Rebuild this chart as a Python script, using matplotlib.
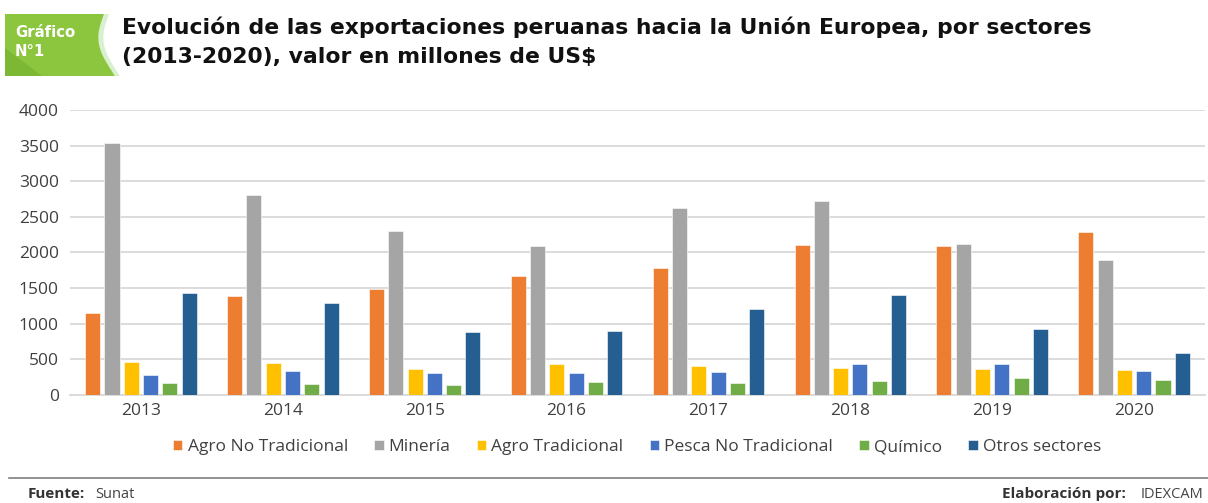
import numpy as np
import matplotlib
matplotlib.use("Agg")
import matplotlib.pyplot as plt
from matplotlib.patches import Polygon

years = ["2013", "2014", "2015", "2016", "2017", "2018", "2019", "2020"]
sectors = ["Agro No Tradicional", "Minería", "Agro Tradicional",
           "Pesca No Tradicional", "Químico", "Otros sectores"]
agro_no_trad = [1156, 1385, 1488, 1670, 1782, 2105, 2096, 2288]
mineria = [3532, 2802, 2302, 2096, 2625, 2718, 2124, 1895]
agro_trad = [463, 449, 360, 440, 407, 384, 365, 346]
pesca_no_trad = [276, 342, 309, 313, 323, 435, 430, 337]
quimico = [168, 150, 140, 178, 173, 196, 234, 215]
otros = [1427, 1296, 880, 898, 1207, 1399, 931, 585]
colors = ["#ED7D31", "#A5A5A5", "#FFC000", "#4472C4", "#70AD47", "#255E91"]

series = [agro_no_trad, mineria, agro_trad, pesca_no_trad, quimico, otros]

plt.rcParams["font.family"] = ["Open Sans", "DejaVu Sans"]

W, H = 1208, 503
fig = plt.figure(figsize=(W / 100, H / 100), dpi=100)
renderer = fig.canvas.get_renderer()


def fit_width(txt, target_px):
    # shrink/grow font so the text spans about target_px
    w = txt.get_window_extent(renderer).width
    txt.set_fontsize(txt.get_fontsize() * target_px / w)


# overlay for header / footer decorations, in pixel coords
deco = fig.add_axes([0, 0, 1, 1])
deco.set_xlim(0, W)
deco.set_ylim(H, 0)
deco.axis("off")

# green badge with wavy right edge
t = np.linspace(0, 1, 40)
wave_x = 104 - 9 * np.sin(t * np.pi * 1.1) + 8 * t
wave_y = 14 + 62 * t
deco.add_patch(Polygon([(5, 14)] + list(zip(wave_x + 5, wave_y)) + [(5, 76)],
                       closed=True, color="#D8F0D0", lw=0))
deco.add_patch(Polygon([(5, 14)] + list(zip(wave_x, wave_y)) + [(5, 76)],
                       closed=True, color="#8CC63F", lw=0))
deco.add_patch(Polygon([(5, 48), (42, 76), (5, 76)], closed=True, color="#7DB834", lw=0))
g1 = deco.text(15, 32, "Gráfico", color="white", fontsize=12, fontweight="bold", va="center",
               family=["DejaVu Sans"])
fit_width(g1, 60)
deco.text(15, 51, "N°1", color="white", fontsize=g1.get_fontsize(), fontweight="bold",
          va="center", family=["DejaVu Sans"])

t1 = deco.text(122, 27, "Evolución de las exportaciones peruanas hacia la Unión Europea, por sectores",
               fontsize=16, fontweight="bold", color="#111111", va="center",
               family=["DejaVu Sans"])
fit_width(t1, 966)
t2 = deco.text(122, 57, "(2013-2020), valor en millones de US$",
               fontsize=t1.get_fontsize(), fontweight="bold", color="#111111", va="center",
               family=["DejaVu Sans"])

# footer
deco.plot([9, W], [478, 478], color="#7F7F7F", lw=1.2)
deco.text(28, 494, "Fuente:", fontsize=11, fontweight="bold", color="#333333", va="center")
deco.text(95, 494, "Sunat", fontsize=10.5, color="#444444", va="center")
deco.text(1203, 494, "IDEXCAM", fontsize=10.5, color="#444444", va="center", ha="right")
deco.text(1126, 494, "Elaboración por:", fontsize=11, fontweight="bold", color="#333333",
          va="center", ha="right")

# main chart
ax = fig.add_axes([70 / W, 1 - 395 / H, (1205 - 70) / W, (395 - 110) / H])
x = np.arange(len(years))
pitch = 0.136
width = 0.106
for i, (vals, c, name) in enumerate(zip(series, colors, sectors)):
    ax.bar(x + (i - 2.5) * pitch, vals, width, color=c, label=name, zorder=3,
           edgecolor="white", linewidth=0.4)

ax.set_xlim(-0.5, len(years) - 0.5)
ax.set_ylim(0, 4000)
ax.set_yticks(range(0, 4001, 500))
ax.set_xticks(x)
ax.set_xticklabels(years)
ax.yaxis.grid(True, color="#D9D9D9", lw=1.3, zorder=0)
for s in ["top", "right", "left"]:
    ax.spines[s].set_visible(False)
ax.spines["bottom"].set_color("#D9D9D9")
ax.spines["bottom"].set_linewidth(1.3)
ax.tick_params(axis="both", length=0, colors="#404040", labelsize=12.5)
ax.tick_params(axis="x", pad=6)
ax.tick_params(axis="y", pad=8)

leg = fig.legend(loc="center", bbox_to_anchor=(637 / W, 1 - 447 / H), ncol=6,
                 frameon=False, fontsize=12.5, handlelength=0.55, handleheight=0.55,
                 handletextpad=0.3, columnspacing=1.5)
for txt in leg.get_texts():
    txt.set_color("#404040")

fig.savefig("out.png", dpi=100)
